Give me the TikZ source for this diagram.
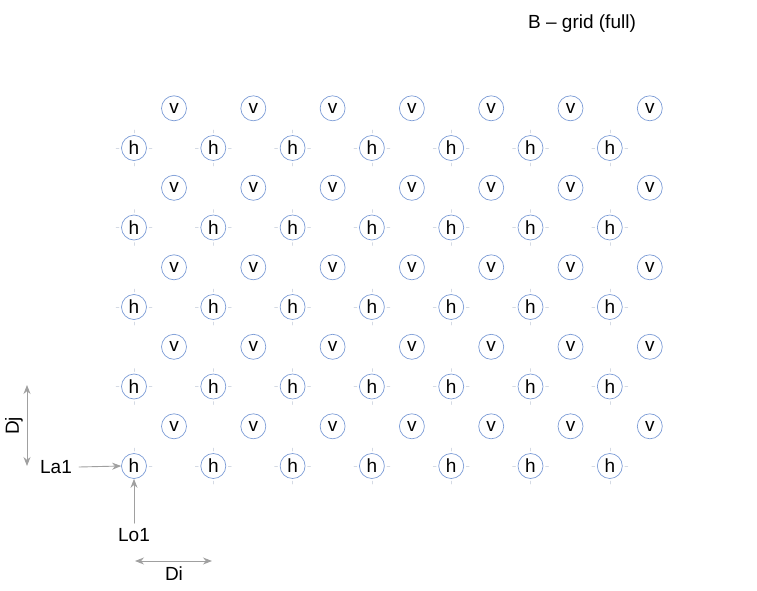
\documentclass[tikz,border=0pt]{standalone}
\usepackage{fontspec}
\setmainfont{Liberation Sans}
\usetikzlibrary{arrows.meta}

\definecolor{ringblue}{HTML}{7C9CD6}
\definecolor{tickgrey}{HTML}{D4DAE4}
\definecolor{dimgrey}{HTML}{A0A0A0}

\begin{document}
\begin{tikzpicture}[
  x=1pt, y=-1pt,
  line join=round, line cap=round,
  site/.style={circle, draw=ringblue, line width=0.7pt, minimum size=25pt,
               inner sep=0pt, font=\fontsize{19}{21}\selectfont},
  tick/.style={draw=tickgrey, line width=0.5pt},
  dim/.style={draw=dimgrey, line width=0.9pt, -{Stealth[length=9pt,width=7pt]}},
  label/.style={inner sep=1pt, font=\fontsize{19}{21}\selectfont},
]
\useasboundingbox (0,0) rectangle (757,591);

% ── title ─────────────────────────────────────────────────────────────────
\node[label] (title) at (582,24) {B -- grid (full)};

% ── the lattice: h rows, and v rows shifted half a step ──────────────────
\foreach \i in {1,...,7} {
  \foreach \j in {1,...,5} {
    \pgfmathsetmacro{\px}{134 + 79.3*(\i-1)}
    \pgfmathsetmacro{\py}{466 - 79.5*(\j-1)}
    \node[site] (h-\i-\j) at (\px,\py) {h};
    % small cross marks round each h
    \draw[tick] (\px-18,\py) -- (\px-15,\py);
    \draw[tick] (\px+15,\py) -- (\px+18,\py);
    \draw[tick] (\px,\py-18) -- (\px,\py-15);
    \draw[tick] (\px,\py+15) -- (\px,\py+18);
    \node[site] (v-\i-\j) at (\px+40,\py-39.7) {v};
  }
}

% ── pointers to the first site ────────────────────────────────────────────
\node[label] (la1) at (56,467) {La1};
\node[label] (lo1) at (134,535) {Lo1};
\draw[dim] (la1.east) ++(6,0) -- (h-1-1.west);
\draw[dim] (lo1.north) ++(0,-4) -- (h-1-1.south);

% ── the two steps ─────────────────────────────────────────────────────────
\coordinate (di-a) at (135,561);
\coordinate (di-b) at (212,561);
\draw[dim, {Stealth[length=9pt,width=7pt]}-{Stealth[length=9pt,width=7pt]}] (di-a) -- (di-b);
\node[label] (di) at (174,574) {Di};

\coordinate (dj-a) at (27,385);
\coordinate (dj-b) at (27,466);
\draw[dim, {Stealth[length=9pt,width=7pt]}-{Stealth[length=9pt,width=7pt]}] (dj-a) -- (dj-b);
\node[label, rotate=90] (dj) at (14,426) {Dj};

\end{tikzpicture}
\end{document}
